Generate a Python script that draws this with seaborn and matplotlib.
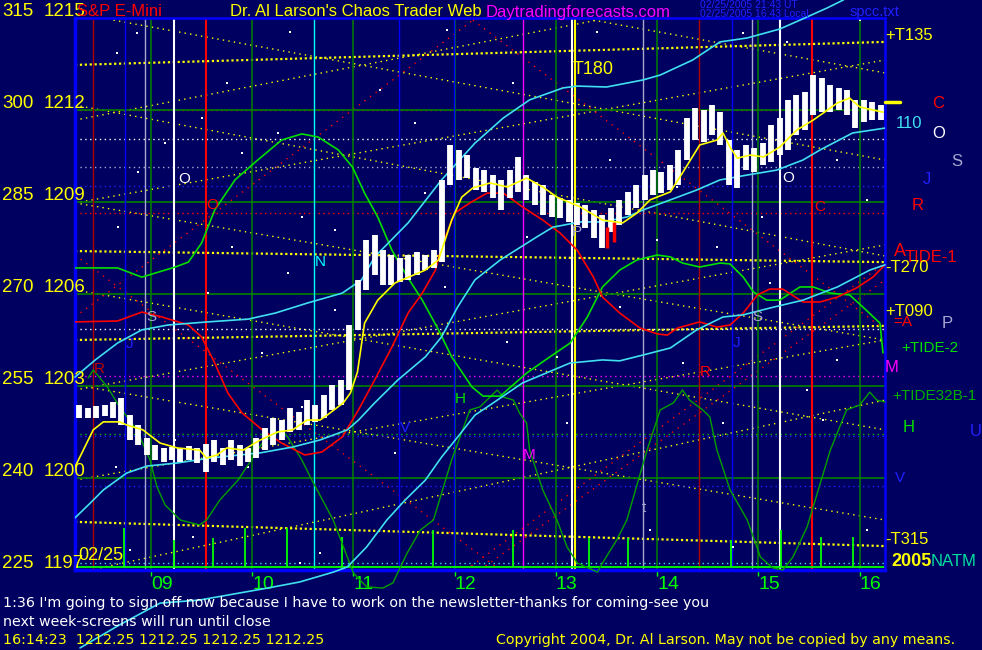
import numpy as np
import matplotlib
matplotlib.use('Agg')
import matplotlib.pyplot as plt
import seaborn as sns

# ---------------- data (x = hour of day, y = S&P points) ----------------
# 5 minute bars, 08:15 .. 16:10
bar_high = [1202.38, 1202.28, 1202.35, 1202.38, 1202.48, 1202.61, 1202.05, 1201.73, 1201.30, 1201.08,
            1200.98, 1201.01, 1200.98, 1201.04, 1200.98, 1201.11, 1201.24, 1200.98, 1201.24, 1201.08,
            1200.98, 1201.30, 1201.63, 1201.96, 1201.89, 1202.28, 1202.15, 1202.54, 1202.38, 1202.71,
            1203.03, 1203.20, 1204.99, 1206.46, 1207.76, 1207.92, 1207.43, 1207.27, 1207.17, 1207.27,
            1207.37, 1207.27, 1207.43, 1209.72, 1210.86, 1210.70, 1210.53, 1210.11, 1210.04, 1209.88,
            1209.72, 1210.04, 1210.47, 1209.88, 1209.65, 1209.55, 1209.23, 1209.13, 1209.07, 1208.97,
            1208.90, 1208.74, 1208.58, 1208.80, 1209.07, 1209.33, 1209.55, 1209.88, 1210.04, 1209.98,
            1210.21, 1210.70, 1211.74, 1212.07, 1212.00, 1212.16, 1211.93, 1211.02, 1210.70, 1210.86,
            1210.76, 1210.92, 1211.51, 1211.74, 1212.33, 1212.49, 1212.59, 1213.14, 1213.04, 1212.82,
            1212.72, 1212.65, 1212.33, 1212.33, 1212.26, 1212.16]
bar_low = [1201.96, 1201.96, 1201.96, 1202.02, 1201.96, 1201.73, 1201.24, 1201.08, 1200.75, 1200.59,
           1200.52, 1200.59, 1200.52, 1200.59, 1200.49, 1200.20, 1200.52, 1200.42, 1200.59, 1200.39,
           1200.52, 1200.65, 1200.91, 1201.08, 1201.24, 1201.50, 1201.57, 1201.73, 1201.83, 1201.96,
           1202.22, 1202.38, 1202.87, 1204.83, 1206.13, 1206.62, 1206.29, 1206.29, 1206.39, 1206.46,
           1206.62, 1206.78, 1206.85, 1207.04, 1209.55, 1209.72, 1209.78, 1209.39, 1209.33, 1209.13,
           1208.74, 1209.13, 1209.33, 1209.07, 1208.90, 1208.58, 1208.51, 1208.48, 1208.35, 1208.25,
           1208.15, 1207.83, 1207.50, 1208.02, 1208.25, 1208.58, 1208.80, 1209.07, 1209.23, 1209.29,
           1209.39, 1209.55, 1210.37, 1211.02, 1210.96, 1211.18, 1210.86, 1209.55, 1209.46, 1210.04,
           1209.98, 1210.21, 1210.30, 1210.53, 1210.70, 1211.18, 1211.35, 1211.84, 1211.93, 1211.93,
           1212.00, 1211.84, 1211.41, 1211.61, 1211.67, 1211.67]
bar_time = 8.25 + np.arange(len(bar_high)) / 12 + 1 / 24

# yellow average of price
ma_t = [8.25, 8.43, 8.53, 8.69, 8.76, 8.92, 9.09, 9.26, 9.48, 9.55, 9.65, 9.75, 9.91, 10.08, 10.25, 10.40,
        10.54, 10.67, 10.74, 10.90, 10.97, 11.04, 11.11, 11.24, 11.41, 11.48, 11.71, 11.84, 11.97, 12.07,
        12.18, 12.35, 12.52, 12.71, 12.87, 13.01, 13.24, 13.46, 13.66, 13.80, 13.93, 14.13, 14.25, 14.42,
        14.59, 14.65, 14.72, 14.79, 14.92, 15.05, 15.21, 15.38, 15.54, 15.64, 15.78, 15.90, 16.00, 16.13, 16.23]
ma_v = [1200.36, 1201.57, 1201.83, 1201.83, 1201.73, 1201.57, 1201.14, 1200.98, 1200.91, 1200.65, 1200.75,
        1200.98, 1200.91, 1201.24, 1201.50, 1201.57, 1201.89, 1201.89, 1202.05, 1202.45, 1202.77, 1203.46,
        1205.05, 1205.80, 1206.36, 1206.46, 1206.78, 1207.11, 1208.41, 1209.16, 1209.46, 1209.62, 1209.49,
        1209.78, 1209.49, 1209.16, 1208.84, 1208.41, 1208.32, 1208.64, 1209.07, 1209.33, 1209.95, 1210.86,
        1211.02, 1211.25, 1210.79, 1210.43, 1210.53, 1210.47, 1210.79, 1211.35, 1211.67, 1211.90, 1212.23,
        1212.39, 1212.10, 1212.00, 1211.93]

# red slow curve
red_t = [8.25, 8.67, 8.91, 9.11, 9.37, 9.50, 9.63, 9.76, 9.90, 10.10, 10.29, 10.52, 10.69, 10.89, 11.05,
         11.21, 11.38, 11.54, 11.68, 11.81, 11.87, 12.00, 12.15, 12.32, 12.48, 12.67, 12.87, 13.04, 13.21,
         13.37, 13.46, 13.63, 13.83, 14.00, 14.10, 14.20, 14.42, 14.59, 14.72, 14.85, 14.99, 15.11, 15.24,
         15.44, 15.61, 15.78, 15.97, 16.13, 16.25]
red_v = [1205.09, 1205.12, 1205.41, 1205.25, 1204.99, 1204.60, 1203.75, 1202.77, 1202.12, 1201.57, 1201.14,
         1200.75, 1200.85, 1201.34, 1202.22, 1203.20, 1204.27, 1205.38, 1206.03, 1206.78, 1207.53, 1208.64,
         1208.97, 1209.29, 1209.29, 1208.84, 1208.41, 1207.99, 1207.43, 1206.55, 1205.90, 1205.38, 1204.89,
         1204.70, 1204.66, 1204.89, 1205.09, 1204.92, 1204.99, 1205.38, 1205.97, 1206.16, 1206.16, 1205.74,
         1205.74, 1205.90, 1206.20, 1206.55, 1206.95]

# bright green tide curve
grn_t = [8.25, 8.67, 8.91, 9.24, 9.37, 9.50, 9.63, 9.83, 10.03, 10.29, 10.49, 10.65, 10.85, 10.99, 11.11,
         11.24, 11.38, 11.54, 11.68, 11.84, 11.97, 12.17, 12.28, 12.45, 12.71, 12.94, 13.14, 13.31, 13.46,
         13.63, 13.80, 14.00, 14.13, 14.25, 14.42, 14.62, 14.72, 14.85, 14.95, 15.08, 15.21, 15.41, 15.54,
         15.71, 15.90, 16.03, 16.20, 16.23]
grn_v = [1206.85, 1206.85, 1206.55, 1206.88, 1207.04, 1207.66, 1208.74, 1209.72, 1210.30, 1211.02, 1211.22,
         1211.12, 1210.70, 1210.14, 1209.29, 1208.51, 1207.43, 1206.52, 1205.80, 1204.83, 1203.95, 1202.97,
         1202.67, 1202.67, 1203.42, 1203.95, 1204.40, 1205.25, 1206.23, 1206.78, 1207.11, 1207.27, 1207.21,
         1207.01, 1206.88, 1207.01, 1206.98, 1206.55, 1206.07, 1205.80, 1205.80, 1206.23, 1206.23, 1206.03,
         1205.97, 1205.58, 1205.05, 1204.08]

# dark green oscillator
osc_t = [8.38, 8.43, 8.57, 8.69, 8.86, 8.99, 9.06, 9.14, 9.29, 9.48, 9.55, 9.68, 9.86, 10.10, 10.29, 10.35,
         10.49, 10.59, 10.80, 11.00, 11.13, 11.29, 11.39, 11.53, 11.66, 11.79, 11.97, 12.15, 12.25, 12.42,
         12.48, 12.58, 12.64, 12.71, 12.74, 12.87, 13.01, 13.11, 13.21, 13.41, 13.46, 13.60, 13.70, 13.90,
         14.03, 14.16, 14.25, 14.32, 14.45, 14.52, 14.59, 14.72, 14.89, 15.02, 15.14, 15.24, 15.34, 15.48,
         15.71, 15.87, 16.00, 16.10, 16.17, 16.25]
osc_v = [1203.26, 1203.52, 1202.97, 1202.32, 1201.57, 1200.59, 1199.71, 1199.12, 1198.63, 1198.47, 1198.63,
         1199.28, 1199.93, 1201.14, 1201.57, 1201.34, 1200.59, 1199.93, 1198.63, 1196.90, 1196.45, 1196.41,
         1196.58, 1197.55, 1198.30, 1198.63, 1200.59, 1202.22, 1202.32, 1202.87, 1202.64, 1202.54, 1202.12,
         1201.79, 1200.91, 1199.61, 1198.63, 1197.75, 1197.23, 1196.93, 1197.23, 1197.98, 1198.63, 1200.91,
         1202.22, 1202.45, 1202.87, 1202.54, 1202.22, 1201.99, 1200.91, 1199.61, 1198.63, 1197.42, 1197.07,
         1197.00, 1197.42, 1198.40, 1200.91, 1202.22, 1202.38, 1202.80, 1202.54, 1202.48]

# cyan bands
cya_t = [8.25, 8.45, 8.67, 8.91, 9.17, 9.56, 9.96, 10.23, 10.55, 10.89, 11.08, 11.21, 11.54, 11.87, 12.20,
         12.48, 12.74, 13.07, 13.21, 13.50, 13.86, 14.03, 14.35, 14.62, 14.89, 15.21, 15.41, 15.68, 15.84]
cya_v = [1203.29, 1203.85, 1204.40, 1204.83, 1204.99, 1205.09, 1205.18, 1205.38, 1205.71, 1206.03, 1206.46,
         1207.21, 1208.32, 1209.72, 1210.92, 1211.74, 1212.33, 1212.72, 1212.78, 1212.75, 1212.98, 1213.14,
         1213.63, 1214.22, 1214.35, 1214.64, 1214.93, 1215.33, 1215.59]
cyb_t = [8.25, 8.40, 8.53, 8.76, 8.96, 9.26, 9.58, 10.08, 10.40, 10.67, 10.94, 11.05, 11.21, 11.44, 11.71,
         11.87, 12.03, 12.20, 12.45, 12.81, 12.97, 13.24, 13.46, 13.70, 13.86, 14.13, 14.39, 14.62, 14.89,
         15.18, 15.44, 15.61, 15.93, 16.25]
cyb_v = [1198.70, 1199.18, 1199.61, 1200.16, 1200.39, 1200.49, 1200.65, 1200.82, 1201.01, 1201.24, 1201.57,
         1201.89, 1202.45, 1203.20, 1203.95, 1204.60, 1205.58, 1206.46, 1207.11, 1207.86, 1208.18, 1208.35,
         1208.35, 1208.51, 1208.74, 1209.07, 1209.39, 1209.72, 1209.88, 1210.04, 1210.37, 1210.70, 1211.25,
         1211.41]
cyc_t = [8.30, 8.69, 9.09, 9.48, 10.15, 10.47, 10.80, 10.94, 11.13, 11.33, 11.51, 11.71, 11.87, 12.03, 12.20,
         12.35, 12.67, 13.14, 13.46, 13.63, 13.86, 14.13, 14.39, 14.65, 14.85, 15.11, 15.44, 15.78, 16.10, 16.25]
cyc_v = [1194.46, 1195.21, 1195.92, 1196.02, 1196.41, 1196.61, 1196.93, 1197.10, 1197.75, 1198.63, 1199.28,
         1199.93, 1200.68, 1201.34, 1202.05, 1202.38, 1203.10, 1203.75, 1203.85, 1203.82, 1204.01, 1204.24,
         1204.83, 1205.25, 1205.32, 1205.54, 1205.80, 1206.23, 1206.78, 1206.95]

# bottom spikes
spike_t = [8.73, 9.23, 9.61, 9.93, 10.34, 10.89, 11.79, 12.58, 13.33, 13.71, 14.73, 15.22, 15.62, 15.93]
spike_top = [1198.37, 1197.98, 1198.04, 1198.37, 1198.37, 1198.08, 1198.30, 1198.30, 1198.04, 1198.04,
             1197.98, 1198.30, 1198.08, 1198.08]
spike_base = 1197.10

# vertical time lines
vline_t = [8.43, 8.74, 8.94, 9.23, 9.54, 10.61, 11.45, 11.99, 12.67, 13.16, 13.19, 13.86, 14.41, 14.74,
           14.94, 15.21, 15.53]
vline_c = ['#b00000', '#0000ff', '#a8a8d0', '#ffffff', '#ff0000', '#00ffff', '#0000ff', '#0000ff', '#ff00ff',
           '#ffffff', '#ffff00', '#a8a8d0', '#b00000', '#0000ff', '#a8a8d0', '#ffffff', '#ff0000']
hour_ticks = [9, 10, 11, 12, 13, 14, 15, 16]
hour_labels = ['09', '10', '11', '12', '13', '14', '15', '16']

# horizontal levels
grid_levels = [1200, 1203, 1206, 1209, 1212]
hdot_p = [1212.00, 1211.05, 1210.14, 1209.52, 1208.64, 1204.86, 1203.33, 1201.43, 1201.37, 1199.74, 1197.23]
hdot_c = ['#ff0000', '#ffffff', '#a8a8d0', '#2020ff', '#ff0000', '#ffffff', '#ff00ff', '#00c000', '#2020ff',
          '#2020ff', '#40e0e0']

# yellow dotted fan lines (start hour, start price, end hour, end price, heavy)
fan_h0 = [8.63, 8.25, 8.25, 8.25, 8.25, 8.25, 8.25, 8.25, 8.25, 8.25, 8.25, 8.25, 8.50, 13.37, 8.25]
fan_p0 = [1214.93, 1211.67, 1208.97, 1208.97, 1213.47, 1207.40, 1204.50, 1202.87, 1206.13, 1203.03, 1199.93,
          1198.57, 1197.07, 1214.93, 1212.16]
fan_h1 = [16.25, 13.41, 16.25, 16.25, 16.25, 16.25, 16.25, 16.25, 16.25, 16.25, 16.25, 16.25, 16.25, 16.25, 16.25]
fan_p1 = [1210.37, 1214.93, 1213.63, 1204.50, 1214.22, 1207.04, 1204.96, 1207.60, 1201.57, 1198.63, 1204.50,
          1197.78, 1202.54, 1213.21, 1207.24]
fan_heavy = [0, 0, 0, 0, 1, 1, 1, 0, 0, 0, 0, 1, 0, 0, 0]

# red dotted diagonals
rfan_h0 = [8.25, 12.18, 8.25, 12.11, 12.25]
rfan_p0 = [1205.25, 1214.93, 1207.27, 1197.00, 1197.00]
rfan_h1 = [12.18, 16.25, 12.45, 16.25, 16.25]
rfan_p1 = [1214.93, 1204.83, 1197.00, 1207.01, 1206.46]

# scattered white dots
dot_t = [8.87, 9.14, 9.50, 9.90, 10.25, 10.49, 10.82, 11.61, 11.71, 8.67, 9.80, 10.35, 11.90, 9.56, 10.10,
         10.49, 9.24, 10.82, 9.96, 11.41, 8.65, 12.58, 13.53, 14.00, 14.20, 15.04, 15.78, 16.07, 12.71, 14.59,
         12.52, 13.01, 13.63, 14.25, 15.11, 15.48, 15.78, 13.11, 14.65, 15.64, 8.79, 9.42, 10.47, 10.67, 13.93,
         14.75, 16.07, 8.86, 8.66, 9.75, 10.37, 11.92, 11.26, 13.41, 14.85, 16.00, 15.28]
dot_p = [1209.98, 1210.92, 1211.74, 1210.60, 1211.25, 1208.51, 1208.09, 1211.58, 1209.29, 1208.18, 1207.53,
         1206.68, 1206.23, 1206.03, 1204.08, 1202.32, 1201.24, 1205.48, 1200.36, 1200.82, 1200.36, 1212.88,
         1210.37, 1207.76, 1209.49, 1208.51, 1210.37, 1209.07, 1207.86, 1207.53, 1204.43, 1203.95, 1205.58,
         1203.75, 1206.36, 1202.87, 1203.85, 1201.79, 1201.79, 1201.89, 1197.65, 1198.08, 1197.23, 1197.55,
         1198.30, 1197.75, 1198.30, 1214.51, 1213.86, 1212.88, 1214.54, 1214.61, 1212.65, 1214.54, 1214.51,
         1214.93, 1214.22]

# price scale labels on the left
left_a = ['315', '300', '285', '270', '255', '240', '225']
left_p = [1215, 1212, 1209, 1206, 1203, 1200, 1197]

NAVY = '#000060'
YEL = '#ffff00'
GRN = '#00e000'
W, H = 982, 650

sns.set_theme(style='dark', rc={'axes.facecolor': NAVY, 'figure.facecolor': NAVY})
plt.rcParams['font.family'] = ['Liberation Sans', 'DejaVu Sans']

fig = plt.figure(figsize=(W / 100, H / 100), dpi=100)
fig.patch.set_facecolor(NAVY)
ax = fig.add_axes([75 / W, 80 / H, 810 / W, 552 / H])
ax.set_facecolor(NAVY)
ax.set_xlim(8.25, 16.25)
ax.set_ylim(1197, 1215)
ax.grid(False)


def ptext(x, y, s, color, size, ha='left', **kw):
    fig.text(x / W, 1 - y / H, s, color=color, fontsize=size, ha=ha, va='center', **kw)


# background dotted fan lines
for h0, p0, h1, p1, hv in zip(fan_h0, fan_p0, fan_h1, fan_p1, fan_heavy):
    if hv:
        ax.plot([h0, h1], [p0, p1], color=YEL, lw=1.6, ls=(0, (1, 1.2)), zorder=1)
    else:
        ax.plot([h0, h1], [p0, p1], color=YEL, lw=1.0, ls=(0, (1, 3)), zorder=1)
for h0, p0, h1, p1 in zip(rfan_h0, rfan_p0, rfan_h1, rfan_p1):
    ax.plot([h0, h1], [p0, p1], color='#ff0000', lw=1.0, ls=(0, (1, 4)), zorder=1)

for p, c in zip(hdot_p, hdot_c):
    ax.axhline(p, color=c, lw=1.0, ls=(0, (1, 2.5)), zorder=1)
for p in grid_levels:
    ax.axhline(p, color='#008000', lw=1.2, zorder=1.5)

for h in hour_ticks:
    ax.axvline(h, color='#008000', lw=1.1, zorder=1.5)
for h, c in zip(vline_t, vline_c):
    lw = 1.5 if c in ('#ffffff', '#ffff00', '#ff0000') else 1.0
    ax.axvline(h, color=c, lw=lw, zorder=1.6)

sns.scatterplot(x=dot_t, y=dot_p, color='white', s=3, marker='s', linewidth=0, ax=ax, zorder=1.7)

# bottom spikes
ax.axhline(spike_base, color='#00ff00', lw=1.3, zorder=2)
ax.vlines(spike_t, spike_base, spike_top, color='#00ff00', lw=1.3, zorder=2)

# curves
sns.lineplot(x=osc_t, y=osc_v, color='#00a000', lw=1.0, ax=ax, sort=False, estimator=None, zorder=3,
             clip_on=False)
sns.lineplot(x=grn_t, y=grn_v, color=GRN, lw=1.2, ax=ax, sort=False, estimator=None, zorder=3)
sns.lineplot(x=red_t, y=red_v, color='#ff0000', lw=1.2, ax=ax, sort=False, estimator=None, zorder=3)
sns.lineplot(x=cya_t, y=cya_v, color='#40e0f0', lw=1.2, ax=ax, sort=False, estimator=None, zorder=3,
             clip_on=False)
sns.lineplot(x=cyb_t, y=cyb_v, color='#40e0f0', lw=1.2, ax=ax, sort=False, estimator=None, zorder=3)
sns.lineplot(x=cyc_t, y=cyc_v, color='#40e0f0', lw=1.2, ax=ax, sort=False, estimator=None, zorder=3,
             clip_on=False)

# price bars
ax.vlines(bar_time, bar_low, bar_high, color='white', lw=4.2, zorder=4)
ax.vlines([13.50, 13.57], [1207.50, 1207.70], [1208.20, 1208.35], color='#ff0000', lw=2.5, zorder=4.1)
sns.lineplot(x=ma_t, y=ma_v, color=YEL, lw=1.2, ax=ax, sort=False, estimator=None, zorder=5)
ax.plot([16.25, 16.40], [bar_high[-1] + 0.09, bar_high[-1] + 0.09], color=YEL, lw=2.5, clip_on=False, zorder=5)

# frame
for side in ['left', 'right', 'top', 'bottom']:
    ax.spines[side].set_visible(True)
    ax.spines[side].set_color('#0000ff')
ax.spines['left'].set_linewidth(2.5)
ax.spines['bottom'].set_linewidth(2.5)
ax.spines['top'].set_linewidth(1.8)
ax.spines['right'].set_linewidth(1.8)
ax.set_yticks([])
ax.set_xticks(hour_ticks)
ax.set_xticklabels(hour_labels, color='#00ff00', fontsize=14, ha='left')
ax.tick_params(axis='x', colors='#00ff00', length=4, width=1, pad=0, bottom=True)
for lab in ax.get_xticklabels():
    lab.set_color('#00ff00')
ax.set_xlabel('')
ax.set_ylabel('')

# left price scale
for a, p in zip(left_a, left_p):
    ax.annotate(a, xy=(2, p), xycoords=('figure pixels', 'data'), xytext=(0, 6), textcoords='offset pixels',
                color=YEL, fontsize=13.5, va='center', ha='left', annotation_clip=False)
    ax.annotate(str(p), xy=(44, p), xycoords=('figure pixels', 'data'), xytext=(0, 6),
                textcoords='offset pixels', color=YEL, fontsize=13.5, va='center', ha='left',
                annotation_clip=False)

# header
ptext(77, 12, 'S&P E-Mini', '#ff0000', 12)
ptext(230, 12, "Dr. Al Larson's Chaos Trader Web", YEL, 12)
ptext(486, 12, 'Daytradingforecasts.com', '#ff00ff', 12)
ptext(700, 5, '02/25/2005 21:43 UT', '#2020ff', 7.5)
ptext(700, 14, '02/25/2005 16:43 Local', '#2020ff', 7.5)
ptext(850, 12, 'spcc.txt', '#2020ff', 10.5)

# letters inside the plot
inner = [(178, 179, 'O', 'white'), (206, 205, 'O', '#ff0000'), (315, 262, 'N', '#00ffff'),
         (146, 317, 'S', '#a8a8d0'), (126, 344, 'J', '#2020ff'), (94, 369, 'R', '#c00000'),
         (455, 399, 'H', '#00e000'), (400, 428, 'V', '#2020ff'), (523, 455, 'M', '#ff00ff'),
         (572, 232, 'P', '#a8a8d0'), (782, 178, 'O', 'white'), (814, 207, 'C', '#ff0000'),
         (752, 317, 'S', '#a8a8d0'), (733, 343, 'J', '#2020ff'), (700, 372, 'R', '#ff0000'),
         (642, 508, 't', '#a8a8d0')]
for x, y, s, c in inner:
    ptext(x, y, s, c, 11)
ptext(573, 69, 'T180', YEL, 13)
ptext(78, 556, '02/25', YEL, 13)

# right side labels
right = [(885, 36, '+T135', YEL, 12), (932, 103, 'C', '#ff0000', 12), (896, 124, '110', '#40e0f0', 12),
         (932, 134, 'O', 'white', 12), (951, 161, 'S', '#a8a8d0', 12), (923, 180, 'J', '#2020ff', 12),
         (912, 206, 'R', '#ff0000', 12), (905, 258, 'TIDE-1', '#ff0000', 12), (894, 252, 'A', '#ff0000', 13),
         (885, 268, '-T270', YEL, 12), (885, 311, '+T090', YEL, 12), (893, 322, '=A', '#ff0000', 11),
         (942, 323, 'P', '#a8a8d0', 12), (901, 348, '+TIDE-2', '#00e000', 11), (885, 368, 'M', '#ff00ff', 12),
         (892, 396, '+TIDE32B-1', '#00b000', 11), (903, 427, 'H', '#00e000', 12), (970, 431, 'U', '#2020ff', 12),
         (895, 478, 'V', '#2020ff', 11), (885, 540, '-T315', YEL, 12)]
for x, y, s, c, fs in right:
    ptext(x, y, s, c, fs)
ptext(891, 561, '2005', YEL, 13, fontweight='bold')
ptext(931, 562, 'NATM', '#00e0a0', 12)

# footer
foot = dict(family=['DejaVu Sans'])
ptext(3, 603, "1:36 I'm going to sign off now because I have to work on the newsletter-thanks for coming-see you",
      'white', 10.3, **foot)
ptext(3, 622, 'next week-screens will run until close', 'white', 10.3, **foot)
ptext(3, 640, '16:14:23  1212.25 1212.25 1212.25 1212.25', YEL, 10.3, **foot)
ptext(955, 640, 'Copyright 2004, Dr. Al Larson. May not be copied by any means.', YEL, 10.3, ha='right', **foot)

fig.savefig('out.png', dpi=100, facecolor=NAVY)
